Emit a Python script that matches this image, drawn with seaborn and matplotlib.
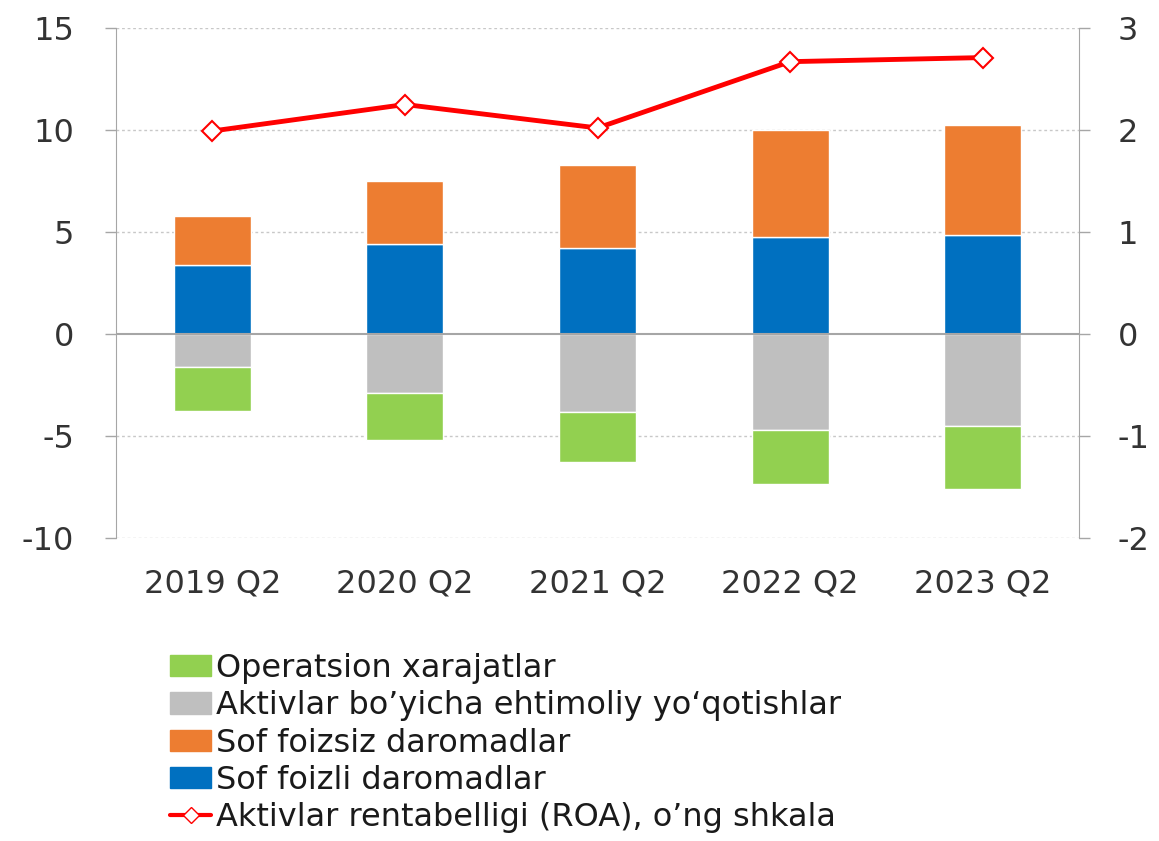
import numpy as np
import pandas as pd
import seaborn as sns
import matplotlib.pyplot as plt
from matplotlib.patches import Patch
from matplotlib.lines import Line2D

# Data
quarters = ["2019 Q2", "2020 Q2", "2021 Q2", "2022 Q2", "2023 Q2"]
sof_foizli = [3.4, 4.4, 4.2, 4.75, 4.85]          # blue, positive base
sof_foizsiz = [2.4, 3.1, 4.1, 5.25, 5.4]          # orange, on top of blue
aktiv_yoqotish = [-1.6, -2.9, -3.8, -4.7, -4.5]   # grey, negative from 0
operatsion = [-2.15, -2.3, -2.45, -2.65, -3.1]    # green, below grey
roa = [1.99, 2.25, 2.02, 2.67, 2.71]              # right scale

labels = ["Operatsion xarajatlar",
          "Aktivlar bo\u2019yicha ehtimoliy yo\u2018qotishlar",
          "Sof foizsiz daromadlar",
          "Sof foizli daromadlar",
          "Aktivlar rentabelligi (ROA), o\u2019ng shkala"]

c_blue = "#0070C0"
c_orange = "#ED7D31"
c_grey = "#BFBFBF"
c_green = "#92D050"
c_red = "#FF0000"

sns.set_style("white")
plt.rcParams["font.family"] = ["DejaVu Sans"]
plt.rcParams["font.size"] = 23
plt.rcParams["axes.unicode_minus"] = False

fig = plt.figure(figsize=(11.59, 8.41), dpi=100)
ax = fig.add_axes([116 / 1159, 1 - 538 / 841, (1079 - 116) / 1159, (538 - 28) / 841])

df = pd.DataFrame({"q": quarters, "blue": sof_foizli, "orange": sof_foizsiz,
                   "grey": aktiv_yoqotish, "green": operatsion})

# grid first so bars sit on top
for v in [15, 10, 5, -5, -10]:
    ax.axhline(v, color="#c8c8c8", lw=1, ls=(0, (2, 2)), zorder=0)
ax.axhline(0, color="#a6a6a6", lw=1.5, zorder=3)

w = 0.4
sns.barplot(data=df, x="q", y="blue", color=c_blue, width=w, ax=ax, zorder=2, saturation=1)
sns.barplot(data=df, x="q", y="orange", bottom=df["blue"], color=c_orange, width=w, ax=ax,
            zorder=2, saturation=1)
sns.barplot(data=df, x="q", y="grey", color=c_grey, width=w, ax=ax, zorder=2, saturation=1)
sns.barplot(data=df, x="q", y="green", bottom=df["grey"], color=c_green, width=w, ax=ax,
            zorder=2, saturation=1)

ax.set_xlim(-0.5, 4.5)
ax.set_ylim(-10, 15)
ax.set_yticks([-10, -5, 0, 5, 10, 15])
ax.set_xlabel("")
ax.set_ylabel("")
ax.tick_params(axis="x", length=0, pad=22, labelsize=23, colors="#333333")
ax.tick_params(axis="y", length=8, width=1, colors="#a6a6a6", labelcolor="#333333",
               labelsize=23, left=True, pad=22)
for s in ["top", "bottom"]:
    ax.spines[s].set_visible(False)
ax.spines["left"].set_color("#a6a6a6")
ax.spines["right"].set_visible(False)

ax2 = ax.twinx()
sns.lineplot(x=np.arange(len(quarters)), y=roa, ax=ax2, color=c_red, lw=3.5,
             marker="D", markersize=10, markerfacecolor="white",
             markeredgecolor=c_red, markeredgewidth=1.5, zorder=5)
ax2.set_ylim(-2, 3)
ax2.set_yticks([-2, -1, 0, 1, 2, 3])
ax2.set_ylabel("")
ax2.tick_params(axis="y", length=8, width=1, colors="#a6a6a6", labelcolor="#333333",
                labelsize=23, right=True, pad=20)
for s in ["top", "bottom", "left"]:
    ax2.spines[s].set_visible(False)
ax2.spines["right"].set_color("#a6a6a6")
ax2.grid(False)

handles = [Patch(color=c_green), Patch(color=c_grey), Patch(color=c_orange),
           Patch(color=c_blue),
           Line2D([0], [0], color=c_red, lw=3, marker="D", markersize=8,
                  markerfacecolor="white", markeredgecolor=c_red)]
leg = fig.legend(handles, labels, loc="upper left",
                 bbox_to_anchor=(157 / 1159, 1 - 640 / 841), frameon=False,
                 fontsize=23, handlelength=1.3, handleheight=0.65,
                 handletextpad=0.15, labelspacing=0.2, borderaxespad=0)
for t in leg.get_texts():
    t.set_color("#1a1a1a")

fig.savefig("out.png", dpi=100)
